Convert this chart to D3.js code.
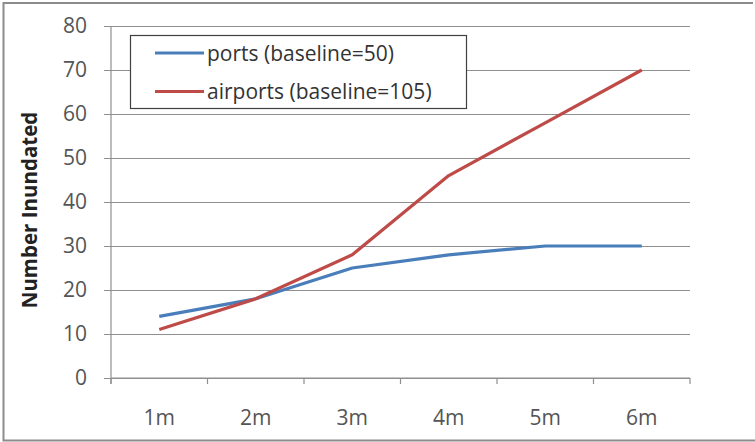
<!DOCTYPE html>
<html>
<head>
<meta charset="utf-8">
<script src="https://cdn.jsdelivr.net/npm/d3@7"></script>
<style>
  html, body { margin: 0; padding: 0; background: #fff; }
  svg { display: block; }
  text { font-family: "Open Sans", "Noto Sans", sans-serif; }
</style>
</head>
<body>
<svg id="chart" width="755" height="442"></svg>
<script>
// Sea-level rise scenarios and counts of inundated facilities
const categories = ["1m", "2m", "3m", "4m", "5m", "6m"];
const ports = [14, 18, 25, 28, 30, 30];
const airports = [11, 18, 28, 46, 58, 70];
const yTicks = [0, 10, 20, 30, 40, 50, 60, 70, 80];
const seriesNames = ["ports (baseline=50)", "airports (baseline=105)"];
const seriesColors = ["#4a7ebb", "#be4b48"];

const svg = d3.select("#chart");
const W = 755, H = 442;
const margin = { left: 111, right: 65, top: 26, bottom: 64 };

// outer frame
svg.append("path")
  .attr("d", `M753,3 H3.5 V440.5 H755`)
  .attr("fill", "none")
  .attr("stroke", "#8c8c8c")
  .attr("stroke-width", 2);

const x = d3.scaleBand()
  .domain(categories)
  .range([margin.left, W - margin.right])
  .paddingInner(0).paddingOuter(0);

const y = d3.scaleLinear()
  .domain([0, 80])
  .range([H - margin.bottom, margin.top]);

// horizontal gridlines with left tick stubs
const yAxis = d3.axisLeft(y)
  .tickValues(yTicks)
  .tickSize(-(W - margin.right - margin.left))
  .tickPadding(24)
  .tickFormat(d3.format("d"));

const gy = svg.append("g")
  .attr("transform", `translate(${margin.left},0)`)
  .call(yAxis);
gy.select(".domain").remove();
gy.selectAll(".tick line")
  .attr("x1", -7)
  .attr("stroke", "#8f8f8f")
  .attr("stroke-width", 1.2);
gy.selectAll(".tick text")
  .attr("fill", "#555")
  .style("font-size", "21px");

// vertical axis line
svg.append("line")
  .attr("x1", margin.left).attr("x2", margin.left)
  .attr("y1", y(80)).attr("y2", y(0) + 6)
  .attr("stroke", "#8f8f8f")
  .attr("stroke-width", 1.2);

// category axis: ticks on band boundaries
const gx = svg.append("g")
  .attr("transform", `translate(0,${y(0)})`);
gx.append("line")
  .attr("x1", margin.left).attr("x2", W - margin.right)
  .attr("stroke", "#8f8f8f").attr("stroke-width", 1.2);
const bounds = categories.map(c => x(c)).concat([x(categories[categories.length - 1]) + x.bandwidth()]);
gx.selectAll("line.tk").data(bounds).join("line")
  .attr("class", "tk")
  .attr("x1", d => d).attr("x2", d => d)
  .attr("y1", 0).attr("y2", 6)
  .attr("stroke", "#8f8f8f").attr("stroke-width", 1.2);
gx.selectAll("text").data(categories).join("text")
  .attr("x", d => x(d) + x.bandwidth() / 2)
  .attr("y", 47)
  .attr("text-anchor", "middle")
  .attr("fill", "#555")
  .style("font-size", "21px")
  .text(d => d);

// y axis title
svg.append("text")
  .attr("transform", `translate(37,210) rotate(-90)`)
  .attr("text-anchor", "middle")
  .attr("fill", "#222")
  .style("font-size", "20.5px")
  .style("font-weight", "bold")
  .text("Number Inundated");

// series lines
const line = d3.line()
  .x((d, i) => x(categories[i]) + x.bandwidth() / 2)
  .y(d => y(d));

[ports, airports].forEach((vals, i) => {
  svg.append("path")
    .datum(vals)
    .attr("d", line)
    .attr("fill", "none")
    .attr("stroke", seriesColors[i])
    .attr("stroke-width", 3.2)
    .attr("stroke-linejoin", "round");
});

// legend
const lg = svg.append("g");
lg.append("rect")
  .attr("x", 130.5).attr("y", 35.5)
  .attr("width", 336).attr("height", 73)
  .attr("fill", "#fff")
  .attr("stroke", "#404040")
  .attr("stroke-width", 1.2);
seriesNames.forEach((name, i) => {
  const ly = 53 + i * 38.5;
  lg.append("line")
    .attr("x1", 155).attr("x2", 204)
    .attr("y1", ly).attr("y2", ly)
    .attr("stroke", seriesColors[i])
    .attr("stroke-width", 3.2);
  lg.append("text")
    .attr("x", 207).attr("y", ly + 7.5)
    .attr("fill", "#333")
    .style("font-size", "21px")
    .text(name);
});
</script>
</body>
</html>
